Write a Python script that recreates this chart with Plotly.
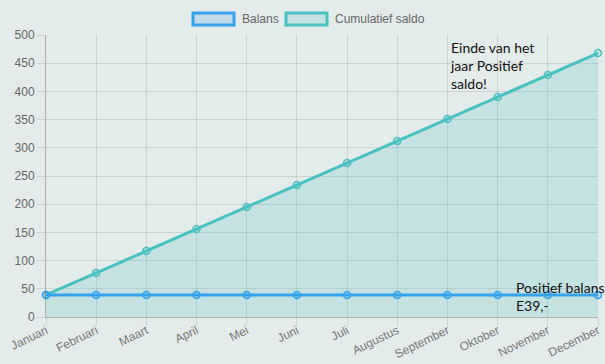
import plotly.graph_objects as go

months = ["Januari", "Februari", "Maart", "April", "Mei", "Juni", "Juli",
          "Augustus", "September", "Oktober", "November", "December"]
balans = [39, 39, 39, 39, 39, 39, 39, 39, 39, 39, 39, 39]
cumulatief = [39, 78, 117, 156, 195, 234, 273, 312, 351, 390, 429, 468]
y_ticks = [0, 50, 100, 150, 200, 250, 300, 350, 400, 450, 500]

BG = "#e3ecea"
BLUE = "#36a2eb"
TEAL = "#4bc0c0"

fig = go.Figure()
fig.add_trace(go.Scatter(
    x=months, y=cumulatief, mode="lines+markers", name="Cumulatief saldo",
    line=dict(color=TEAL, width=3), fill="tozeroy", fillcolor="rgba(75,192,192,0.2)",
    marker=dict(size=7, color="rgba(75,192,192,0.25)", line=dict(color=TEAL, width=1.5)),
    cliponaxis=False, showlegend=False))
fig.add_trace(go.Scatter(
    x=months, y=balans, mode="lines+markers", name="Balans",
    line=dict(color=BLUE, width=3),
    marker=dict(size=7, color="rgba(54,162,235,0.25)", line=dict(color=BLUE, width=1.5)),
    cliponaxis=False, showlegend=False))

grid = "rgba(0,0,0,0.1)"
fig.update_layout(
    width=605, height=364,
    margin=dict(l=46, r=7, t=35, b=47),
    paper_bgcolor=BG, plot_bgcolor=BG,
    font=dict(family="Liberation Sans, Arial", size=12, color="#666"),
    xaxis=dict(type="category", range=[0, 11], showgrid=True, gridcolor=grid,
               ticks="outside", ticklen=8, tickcolor=grid, tickangle=-26,
               ticklabelstandoff=-7,
               showline=True, linecolor="rgba(0,0,0,0.25)", linewidth=1,
               zeroline=False, automargin=False,
               tickfont=dict(size=12, color="#777")),
    yaxis=dict(range=[0, 500], tickvals=y_ticks, showgrid=True, gridcolor=grid,
               ticks="outside", ticklen=8, tickcolor=grid,
               showline=True, linecolor="rgba(0,0,0,0.25)", linewidth=1,
               zeroline=False, automargin=False,
               tickfont=dict(size=12, color="#666")),
)

# Custom legend (boxes like the original)
legend_items = [("Balans", BLUE, "rgba(54,162,235,0.2)", 193, 240),
                ("Cumulatief saldo", TEAL, "rgba(75,192,192,0.2)", 286, 333)]
for label, lc, fc, x0, tx in legend_items:
    fig.add_shape(type="rect", xref="paper", yref="paper",
                  x0=(x0 - 46) / 552, x1=(x0 + 41 - 46) / 552,
                  y0=1 + (35 - 25) / 282, y1=1 + (35 - 13) / 282,
                  line=dict(color=lc, width=3), fillcolor=fc)
    fig.add_annotation(xref="paper", yref="paper", x=(tx - 46) / 552,
                       y=1 + (35 - 19) / 282, text=label, showarrow=False,
                       xanchor="left", yanchor="middle",
                       font=dict(size=12, color="#666", family="Liberation Sans, Arial"))

fig.add_annotation(x=8, y=497, xref="x", yref="y",
                   text="Einde van het<br>jaar Positief<br>saldo!", showarrow=False,
                   xanchor="left", yanchor="top", align="left", xshift=1,
                   font=dict(size=14, color="#111", family="Lato"))
fig.add_annotation(x=9.33, y=71, xref="x", yref="y",
                   text="Positief balans<br>E39,-", showarrow=False,
                   xanchor="left", yanchor="top", align="left",
                   font=dict(size=14, color="#111", family="Lato"))

fig.write_html("out.html")
